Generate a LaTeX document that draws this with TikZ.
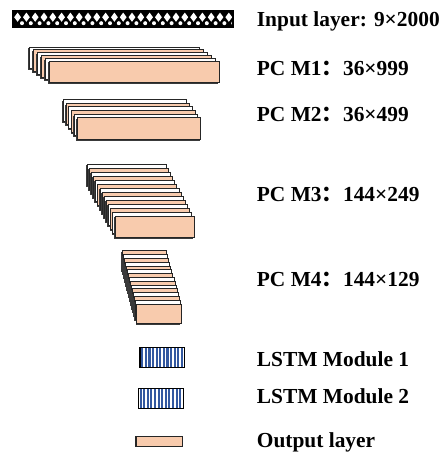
\documentclass[tikz,border=0pt]{standalone}
\usepackage{fontspec}
\setmainfont{Liberation Serif}
\newfontfamily\cjk{Noto Sans CJK SC}
\definecolor{peach}{HTML}{F8CBAD}
\definecolor{lstmblue}{HTML}{3358A0}
\definecolor{slabedge}{HTML}{262626}
\definecolor{slabshade}{HTML}{3A3A3A}

% stack of feature-map slabs: front x, front y, width, height, step x, step y, count
\newcommand\slabstack[7]{%
  \pgfmathtruncatemacro\slablast{#7-1}%
  \foreach \k in {\slablast,...,0}{%
    \pgfmathtruncatemacro\slabodd{mod(\k,2)}%
    \ifnum\slabodd=0 \def\slabfill{peach}\else \def\slabfill{white}\fi
    \fill[slabshade] (#1-\k*#5-1.2, #2-\k*#6+1.4) rectangle ++(#3, #4);
    \draw[slab, fill=\slabfill] (#1-\k*#5, #2-\k*#6) rectangle ++(#3, #4);
  }%
}

% striped LSTM block: left x, top y, width, height
\newcommand\lstmblock[4]{%
  \fill[white] (#1,#2) rectangle ++(#3,#4);
  \foreach \i in {0,...,11}{%
    \fill[lstmblue] (#1+1.2+\i*3.6, #2) rectangle ++(2.1, #4);
  }%
  \draw[black, line width=1.3] (#1,#2) rectangle ++(#3,#4);
}

\begin{document}
\begin{tikzpicture}[x=1pt, y=-1pt,
  slab/.style={draw=slabedge, line width=0.9pt},
  lbl/.style={anchor=base west, inner sep=0pt, font=\fontsize{21.4}{21.4}\selectfont\bfseries}]
\useasboundingbox (0,0) rectangle (446,455);

% input layer: patterned bar
\fill[black] (13,11) rectangle (233,27);
\foreach \i in {0,...,24}{%
  \fill[white] (17.6+\i*8.8,12.6) -- (21.0+\i*8.8,17.2) -- (17.6+\i*8.8,21.8) -- (14.2+\i*8.8,17.2) -- cycle;
  \fill[white] (22.0+\i*8.8,23.2) circle (2.0);
}
\draw[black, line width=1.4] (13,11) rectangle (233,27);

% convolution stages
\slabstack{49.3}{61}{170}{21.7}{4}{2.8}{6}
\slabstack{77.3}{117.7}{123.4}{21.6}{2.8}{3.6}{6}
\slabstack{115}{216}{79}{21.3}{2.15}{4}{14}
\slabstack{136.7}{304}{44.6}{19.3}{1.05}{3.8}{15}

% recurrent modules
\lstmblock{140}{347.7}{44.3}{20}
\lstmblock{138.3}{388.7}{45}{20}

% output layer
\draw[slab, fill=peach, line width=1.3pt] (136,436.7) rectangle (182.3,446.7);

% labels
\node[lbl] (tin) at (256.7,26) {Input layer: 9×2000};
\node[lbl] (tm1) at (256.7,75) {PC M1{\cjk ：}36×999};
\node[lbl] (tm2) at (256.7,121.7) {PC M2{\cjk ：}36×499};
\node[lbl] (tm3) at (256.7,201.7) {PC M3{\cjk ：}144×249};
\node[lbl] (tm4) at (256.7,286.7) {PC M4{\cjk ：}144×129};
\node[lbl] (tl1) at (256.7,366) {LSTM Module 1};
\node[lbl] (tl2) at (256.7,403.3) {LSTM Module 2};
\node[lbl] (tout) at (256.7,447.7) {Output layer};
\end{tikzpicture}
\end{document}
